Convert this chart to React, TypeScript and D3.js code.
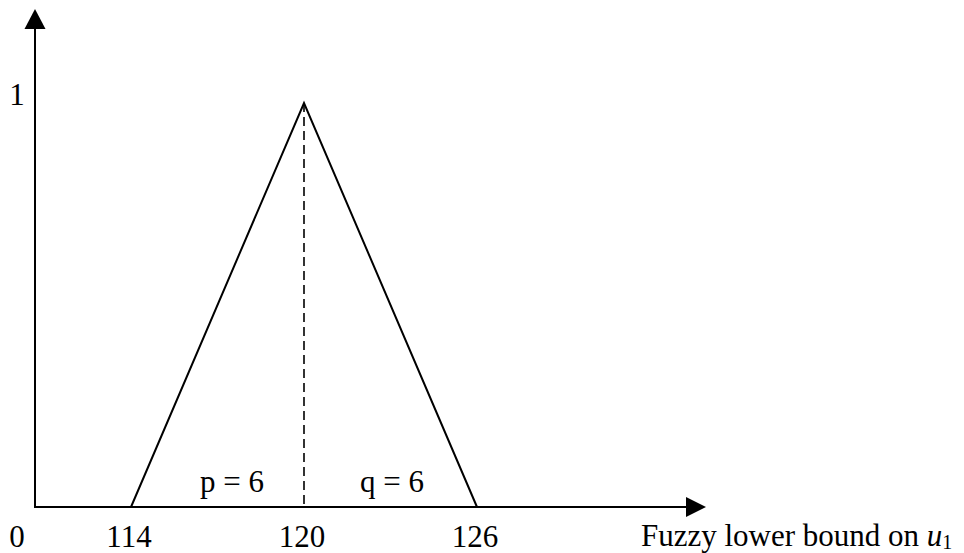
import React, { useEffect, useRef } from "react";
import * as d3 from "d3";

// triangular fuzzy number (114, 120, 126)
const breakpoints = [114, 120, 126];
const membership = [0, 1, 0];
const tickLabels = ["114", "120", "126"];
const spreadLabels = ["p = 6", "q = 6"];
const spreadAt = [117.5, 123.05];
const yTickLabels = ["1"];

const W = 964;
const H = 553;
const FONT = "'Liberation Serif', 'Times New Roman', serif";

export default function App() {
  const ref = useRef<SVGSVGElement>(null);

  useEffect(() => {
    const svg = d3.select(ref.current);
    svg.selectAll("*").remove();

    const ox = 35;
    const oy = 507;
    const xEnd = 706;
    const yEnd = 9;
    const head = 20;

    const x = d3.scaleLinear().domain([114, 126]).range([131, 477]);
    const y = d3.scaleLinear().domain([0, 1]).range([oy, 103]);

    const g = svg.append("g");

    // axes
    g.append("line")
      .attr("x1", ox).attr("y1", oy)
      .attr("x2", xEnd - head + 2).attr("y2", oy)
      .attr("stroke", "#000").attr("stroke-width", 2);
    g.append("line")
      .attr("x1", ox).attr("y1", oy + 1)
      .attr("x2", ox).attr("y2", yEnd + head - 2)
      .attr("stroke", "#000").attr("stroke-width", 2);

    // arrow heads
    g.append("path")
      .attr("d", `M${xEnd},${oy}L${xEnd - head},${oy - 10}L${xEnd - head},${oy + 10}Z`)
      .attr("fill", "#000");
    g.append("path")
      .attr("d", `M${ox},${yEnd}L${ox - 10.5},${yEnd + head}L${ox + 10.5},${yEnd + head}Z`)
      .attr("fill", "#000");

    // triangle
    const pts: [number, number][] = breakpoints.map((b, i) => [x(b), y(membership[i])]);
    const line = d3.line<[number, number]>();
    g.append("path")
      .attr("d", line(pts))
      .attr("fill", "none")
      .attr("stroke", "#000")
      .attr("stroke-width", 2)
      .attr("stroke-linejoin", "miter");

    // dashed line from peak
    const peak = breakpoints[1];
    g.append("line")
      .attr("x1", x(peak)).attr("y1", y(1))
      .attr("x2", x(peak)).attr("y2", y(0))
      .attr("stroke", "#000")
      .attr("stroke-width", 1.6)
      .attr("stroke-dasharray", "9 5");

    const txt = g.append("g")
      .attr("font-family", FONT)
      .attr("font-size", 31)
      .attr("fill", "#000");

    // x tick labels
    txt.selectAll(".xt")
      .data(breakpoints)
      .join("text")
      .attr("class", "xt")
      .attr("x", (d) => x(d) - 2)
      .attr("y", 547)
      .attr("text-anchor", "middle")
      .text((d, i) => tickLabels[i]);

    txt.append("text")
      .attr("x", 17).attr("y", 547)
      .attr("text-anchor", "middle")
      .text("0");

    txt.selectAll(".yt")
      .data([1])
      .join("text")
      .attr("class", "yt")
      .attr("x", 17)
      .attr("y", (d) => y(d) + 2)
      .attr("text-anchor", "middle")
      .text((d, i) => yTickLabels[i]);

    // spread labels
    txt.selectAll(".sp")
      .data(spreadAt)
      .join("text")
      .attr("class", "sp")
      .attr("x", (d) => x(d))
      .attr("y", 492)
      .attr("text-anchor", "middle")
      .text((d, i) => spreadLabels[i]);

    // axis title
    const t = txt.append("text").attr("x", 641).attr("y", 546);
    t.append("tspan").text("Fuzzy lower bound on ");
    t.append("tspan").attr("font-style", "italic").text("u");
    t.append("tspan").attr("font-size", 20).attr("dy", 3).text("1");
  }, []);

  return (
    <svg
      ref={ref}
      width={W}
      height={H}
      style={{ position: "absolute", left: 0, top: 0, background: "#fff" }}
    />
  );
}
